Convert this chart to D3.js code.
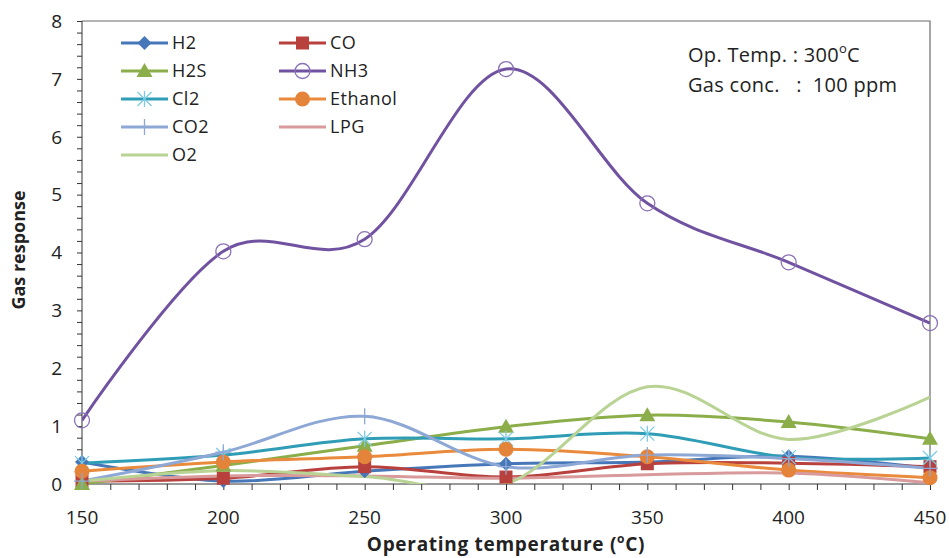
<!DOCTYPE html>
<html>
<head>
<meta charset="utf-8">
<script src="https://cdn.jsdelivr.net/npm/d3@7"></script>
<style>
  body { margin: 0; background: #fff; }
  svg text { font-family: "Open Sans", Lato, sans-serif; fill: #222; }
</style>
</head>
<body>
<svg id="chart" width="949" height="558"></svg>
<script>
// operating temperatures (x) and gas response per gas
const temps = [150, 200, 250, 300, 350, 400, 450];
const h2      = [0.38, 0.05, 0.22, 0.35, 0.38, 0.48, 0.27];
const co      = [0.05, 0.10, 0.30, 0.12, 0.35, 0.36, 0.30];
const h2s     = [0.00, 0.32, 0.66, 0.99, 1.19, 1.07, 0.78];
const nh3     = [1.10, 4.02, 4.23, 7.17, 4.85, 3.83, 2.78];
const cl2     = [0.36, 0.50, 0.78, 0.78, 0.87, 0.46, 0.45];
const ethanol = [0.22, 0.38, 0.47, 0.60, 0.47, 0.24, 0.11];
const co2     = [0.05, 0.55, 1.17, 0.30, 0.50, 0.44, 0.27];
const lpg     = [0.05, 0.14, 0.14, 0.10, 0.16, 0.19, 0.02];
const o2      = [0.05, 0.23, 0.13, 0.00, 1.68, 0.77, 1.50];

const xTicks = [150, 200, 250, 300, 350, 400, 450];
const yTicks = [0, 1, 2, 3, 4, 5, 6, 7, 8];

const series = [
  {name: "H2", values: h2, color: "#4677b8", marker: "diamond", mcolor: "#4677b8"},
  {name: "CO", values: co, color: "#b8413e", marker: "square", mcolor: "#b8413e"},
  {name: "H2S", values: h2s, color: "#8bae4b", marker: "triangle", mcolor: "#8bae4b"},
  {name: "NH3", values: nh3, color: "#7152a0", marker: "ocircle", mcolor: "#8a70b4"},
  {name: "Cl2", values: cl2, color: "#2f9db6", marker: "star", mcolor: "#7ccbe4"},
  {name: "Ethanol", values: ethanol, color: "#e98a3c", marker: "circle", mcolor: "#e3843a"},
  {name: "CO2", values: co2, color: "#8ea8d6", marker: "plus", mcolor: "#8ea8d6"},
  {name: "LPG", values: lpg, color: "#d89a9b", marker: null},
  {name: "O2", values: o2, color: "#b9d394", marker: null}
];

const width = 949, height = 558;
const margin = {top: 21, right: 19, bottom: 74, left: 82};

const svg = d3.select("#chart");

const x = d3.scaleLinear().domain([150, 450]).range([margin.left, width - margin.right]);
const y = d3.scaleLinear().domain([0, 8]).range([height - margin.bottom, margin.top]);

svg.append("defs").append("clipPath").attr("id", "plot")
  .append("rect")
  .attr("x", margin.left).attr("y", margin.top)
  .attr("width", width - margin.left - margin.right)
  .attr("height", height - margin.top - margin.bottom);

// frame on top and right
svg.append("path")
  .attr("d", `M${x(150)},${y(8)}H${x(450)}V${y(0)}`)
  .attr("fill", "none")
  .attr("stroke", "#6b6b6b")
  .attr("stroke-width", 1.2);

// y axis with minor ticks
const yAxis = svg.append("g").attr("transform", `translate(${margin.left},0)`);
yAxis.call(d3.axisLeft(y).tickValues(d3.range(0, 8.01, 0.2)).tickSize(5).tickFormat(""));
yAxis.call(g => g.select(".domain").remove());
yAxis.selectAll(".tick line").attr("stroke", "#333");
yAxis.append("line").attr("y1", y(0)).attr("y2", y(8)).attr("stroke", "#333");
yAxis.selectAll(".ylab").data(yTicks).join("text")
  .attr("class", "ylab")
  .attr("x", -20).attr("y", d => y(d))
  .attr("dy", "0.36em")
  .attr("text-anchor", "end")
  .style("font-size", "19px")
  .text(d => d);

// x axis with minor ticks
const xAxis = svg.append("g").attr("transform", `translate(0,${y(0)})`);
xAxis.call(d3.axisBottom(x).tickValues(d3.range(150, 451, 10)).tickSize(6).tickFormat(""));
xAxis.call(g => g.select(".domain").remove());
xAxis.selectAll(".tick line").attr("stroke", "#333");
xAxis.append("line").attr("x1", x(150)).attr("x2", x(450)).attr("stroke", "#333");
xAxis.selectAll(".xlab").data(xTicks).join("text")
  .attr("class", "xlab")
  .attr("x", d => x(d)).attr("y", 40)
  .attr("text-anchor", "middle")
  .style("font-size", "19px")
  .text(d => d);

// lines
const line = d3.line()
  .x((d, i) => x(temps[i]))
  .y(d => y(d))
  .curve(d3.curveCatmullRom.alpha(0));

const plot = svg.append("g").attr("clip-path", "url(#plot)");

function drawMarker(g, type, color, cx, cy) {
  if (type === "diamond") {
    g.append("path").attr("d", `M${cx},${cy - 7}L${cx + 7},${cy}L${cx},${cy + 7}L${cx - 7},${cy}Z`).attr("fill", color);
  } else if (type === "square") {
    g.append("rect").attr("x", cx - 6.5).attr("y", cy - 6.5).attr("width", 13).attr("height", 13).attr("fill", color);
  } else if (type === "triangle") {
    g.append("path").attr("d", `M${cx},${cy - 8}L${cx + 8},${cy + 6}L${cx - 8},${cy + 6}Z`).attr("fill", color);
  } else if (type === "ocircle") {
    g.append("circle").attr("cx", cx).attr("cy", cy).attr("r", 7.5).attr("fill", "none").attr("stroke", color).attr("stroke-width", 1.3);
  } else if (type === "circle") {
    g.append("circle").attr("cx", cx).attr("cy", cy).attr("r", 7.5).attr("fill", color);
  } else if (type === "star") {
    g.append("path")
      .attr("d", `M${cx - 7},${cy - 7}L${cx + 7},${cy + 7}M${cx + 7},${cy - 7}L${cx - 7},${cy + 7}M${cx},${cy - 8}V${cy + 8}`)
      .attr("stroke", color).attr("stroke-width", 1.3);
  } else if (type === "plus") {
    g.append("path")
      .attr("d", `M${cx - 8},${cy}H${cx + 8}M${cx},${cy - 8}V${cy + 8}`)
      .attr("stroke", color).attr("stroke-width", 1.3);
  }
}

series.forEach(s => {
  plot.append("path")
    .datum(s.values)
    .attr("d", line)
    .attr("fill", "none")
    .attr("stroke", s.color)
    .attr("stroke-width", 3);
  if (s.marker) {
    const mg = svg.append("g");
    s.values.forEach((v, i) => drawMarker(mg, s.marker, s.mcolor, x(temps[i]), y(v)));
  }
});

// legend
const legend = svg.append("g");
series.forEach((s, i) => {
  const col = i < 8 ? i % 2 : 0;
  const row = i < 8 ? Math.floor(i / 2) : 4;
  const lx = col === 0 ? 121 : 279;
  const ly = 43 + row * 28;
  legend.append("line")
    .attr("x1", lx).attr("x2", lx + 47)
    .attr("y1", ly).attr("y2", ly)
    .attr("stroke", s.color).attr("stroke-width", 3);
  if (s.marker) drawMarker(legend, s.marker, s.mcolor, lx + 23.5, ly);
  legend.append("text")
    .attr("x", lx + 51).attr("y", ly)
    .attr("dy", "0.36em")
    .style("font-size", "18px")
    .style("letter-spacing", "0.5px")
    .text(s.name);
});

// annotation
const note = svg.append("g").style("font-size", "20px").style("letter-spacing", "0.3px");
const t1 = note.append("text").attr("x", 688).attr("y", 62);
t1.append("tspan").text("Op. Temp. : 300");
t1.append("tspan").attr("baseline-shift", "super").style("font-size", "13px").text("o");
t1.append("tspan").text("C");
note.append("text").attr("x", 688).attr("y", 92).attr("xml:space", "preserve")
  .text("Gas conc.   :  100 ppm");

// axis titles
const xt = svg.append("text")
  .attr("x", 506).attr("y", 551)
  .attr("text-anchor", "middle")
  .style("font-size", "19px").style("font-weight", "bold")
  .style("letter-spacing", "0.7px");
xt.append("tspan").text("Operating temperature (");
xt.append("tspan").attr("baseline-shift", "super").style("font-size", "12px").text("o");
xt.append("tspan").text("C)");

svg.append("text")
  .attr("transform", "translate(25,250) rotate(-90)")
  .attr("text-anchor", "middle")
  .style("font-size", "18px").style("font-weight", "bold")
  .text("Gas response");
</script>
</body>
</html>
